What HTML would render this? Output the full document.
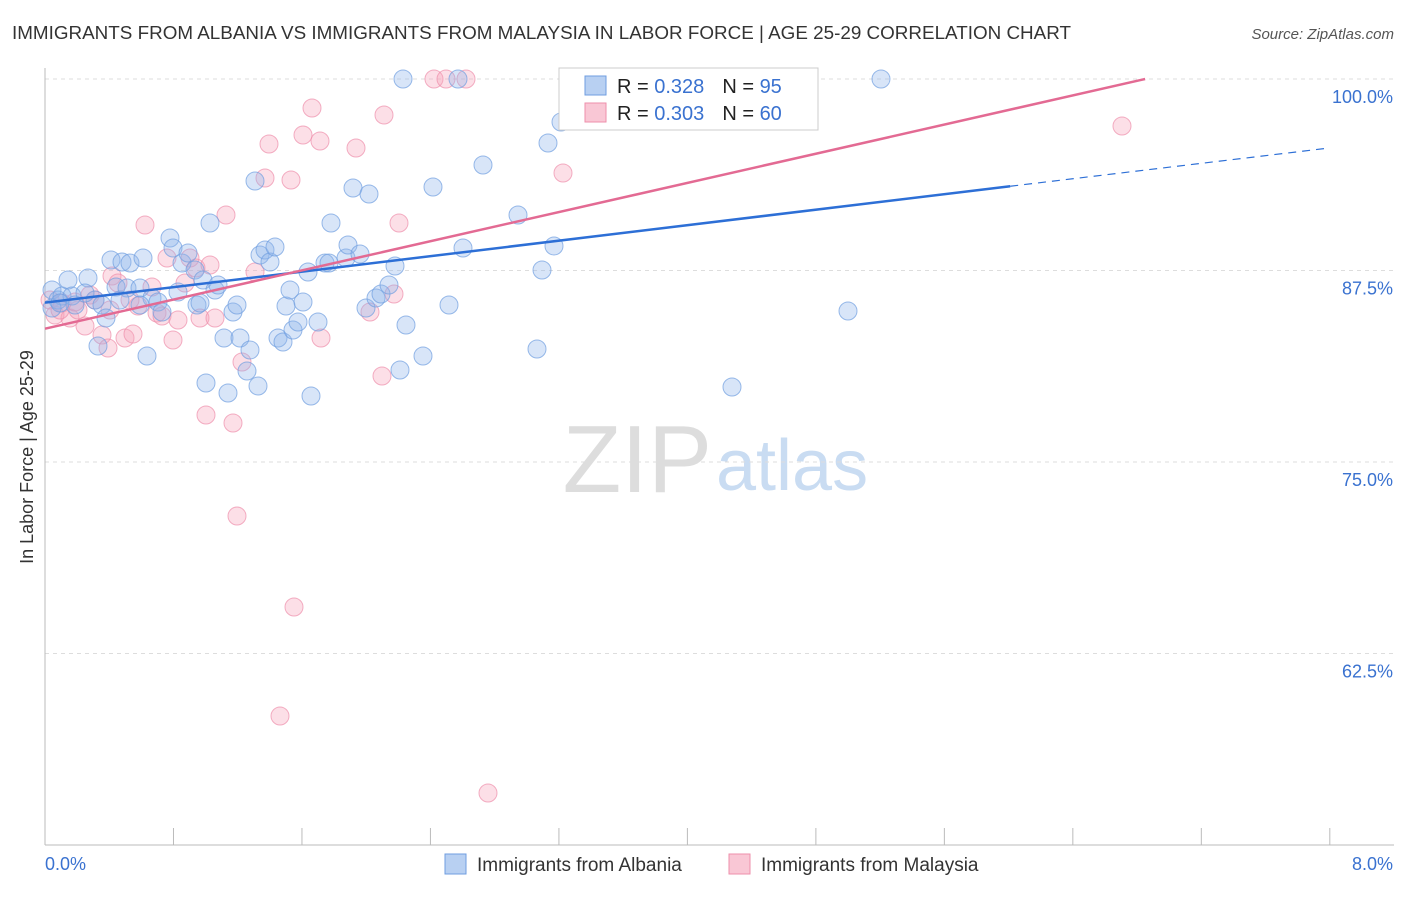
<!DOCTYPE html>
<html><head><meta charset="utf-8"><style>
body{margin:0;background:#fff;font-family:"Liberation Sans",sans-serif}
svg text{font-family:"Liberation Sans",sans-serif}
</style></head><body>
<svg id="c" width="1406" height="892">
<text x="12" y="39" font-size="18" fill="#333" textLength="1059" lengthAdjust="spacingAndGlyphs">IMMIGRANTS FROM ALBANIA VS IMMIGRANTS FROM MALAYSIA IN LABOR FORCE | AGE 25-29 CORRELATION CHART</text>
<text x="1394" y="39" font-size="15" fill="#555" text-anchor="end" font-style="italic">Source: ZipAtlas.com</text>
<text x="33" y="457" font-size="18" fill="#333" text-anchor="middle" transform="rotate(-90 33 457)">In Labor Force | Age 25-29</text>
<text x="712" y="492" font-size="96" fill="#ddd" text-anchor="end" font-family="Liberation Serif">ZIP</text>
<text x="716" y="490" font-size="72" fill="#c9dcf2">atlas</text>
<g id="grid"></g><g id="pts"></g><g id="lines"></g>
<g>
<rect x="559" y="68" width="259" height="62" fill="#fff" stroke="#ccc"/>
<rect x="585" y="76" width="21" height="19" fill="#b8d0f2" stroke="#6f9ee0"/>
<rect x="585" y="103" width="21" height="19" fill="#f9c7d5" stroke="#ee8fab"/>
<text x="617" y="93" font-size="20" fill="#222">R = <tspan fill="#3a72d0">0.328</tspan><tspan dx="18">N = </tspan><tspan fill="#3a72d0">95</tspan></text>
<text x="617" y="120" font-size="20" fill="#222">R = <tspan fill="#3a72d0">0.303</tspan><tspan dx="18">N = </tspan><tspan fill="#3a72d0">60</tspan></text>
</g>
<g>
<rect x="445" y="854" width="21" height="20" fill="#b8d0f2" stroke="#6f9ee0"/>
<text x="477" y="871" font-size="19" fill="#333">Immigrants from Albania</text>
<rect x="729" y="854" width="21" height="20" fill="#f9c7d5" stroke="#ee8fab"/>
<text x="761" y="871" font-size="19" fill="#333">Immigrants from Malaysia</text>
</g>
<text x="45" y="870" font-size="18" fill="#3a72d0">0.0%</text>
<text x="1393" y="870" font-size="18" fill="#3a72d0" text-anchor="end">8.0%</text>
</svg>
<script>
const yTicks=[100,87.5,75,62.5];
const yTickLabels=["100.0%","87.5%","75.0%","62.5%"];
const xTicks=[0,0.8,1.6,2.4,3.2,4.0,4.8,5.6,6.4,7.2,8.0];
const albaniaX=[52,58,62,68,72,75,88,95,98,102,106,111,116,122,127,130,140,143,147,152,158,162,170,173,178,182,188,195,197,203,206,210,215,218,224,228,233,237,240,247,255,258,260,265,270,275,278,283,286,290,293,298,303,308,311,318,325,329,331,346,348,353,360,366,369,376,381,389,395,400,403,406,423,433,449,458,463,483,518,537,542,548,554,561,594,732,848,881,52,60,85,120,140,200,250].map(p=>(p-45)/160.6);
const albaniaY=[290,300,296,280,296,305,278,300,346,305,318,260,287,262,288,263,288,258,356,298,302,312,238,248,292,263,253,270,305,280,383,223,290,285,338,393,312,305,338,371,181,386,255,250,262,247,338,342,306,290,330,322,302,272,396,322,263,263,223,258,245,188,254,308,194,298,294,285,266,370,79,325,356,187,305,79,248,165,215,349,270,143,246,122,79,387,311,79,308,303,293,300,305,303,350].map(p=>100-(p-79)/15.32);
const malaysiaX=[50,55,62,70,78,85,95,102,108,112,118,125,133,138,145,152,157,162,167,173,178,185,190,196,200,206,210,215,226,233,237,242,255,265,269,280,291,294,303,312,320,321,356,370,382,384,394,399,434,446,466,488,563,590,1122,60,75,90,110,130].map(p=>(p-45)/160.6);
const malaysiaY=[300,315,303,318,310,326,300,335,348,276,283,338,334,306,225,287,313,316,258,340,320,283,258,268,318,415,265,318,215,423,516,362,272,178,144,716,180,607,135,108,141,338,148,312,376,115,294,223,79,79,79,793,173,79,126,310,302,295,310,300].map(p=>100-(p-79)/15.32);
const X=v=>45+v*160.6, Y=v=>79+(100-v)*15.32;
const ns="http://www.w3.org/2000/svg";
function mk(t,a,p){const e=document.createElementNS(ns,t);for(const k in a)e.setAttribute(k,a[k]);p.appendChild(e);return e;}
const g=document.getElementById('grid');
yTicks.forEach((v,i)=>{
 const l=mk('line',{x1:45,x2:1394,y1:Y(v),y2:Y(v),stroke:'#ddd','stroke-dasharray':'4,4'},g);
 
 
 const t=mk('text',{x:1393,y:Y(v)+24,'font-size':18,fill:'#3a72d0','text-anchor':'end'},g);
 t.textContent=yTickLabels[i];
 
 
});
mk('line',{x1:45,x2:45,y1:68,y2:845,stroke:'#bbb'},g);
mk('line',{x1:45,x2:1394,y1:845,y2:845,stroke:'#bbb'},g);
xTicks.forEach(v=>{const t=mk('line',{x1:X(v),x2:X(v),y1:828,y2:845,stroke:'#bbb'},g);
 
 });
const P=document.getElementById('pts');
function pts(xs,ys,f,s,name){xs.forEach((x,i)=>{const c=mk('circle',{cx:X(x),cy:Y(ys[i]),r:9,fill:f,'fill-opacity':0.35,stroke:s,'stroke-opacity':0.7},P);
 
 });}
pts(malaysiaX,malaysiaY,'#f5a3bb','#ee8fab','malaysia-point');
pts(albaniaX,albaniaY,'#8fb4ea','#6f9ee0','albania-point');
const L=document.getElementById('lines');
const bl=mk('line',{x1:X(0),y1:Y(85.4),x2:X(6.01),y2:Y(93.0),stroke:'#2d6fd6','stroke-width':2.5},L);

const bd=mk('line',{x1:X(6.01),y1:Y(93.0),x2:X(8),y2:Y(95.5),stroke:'#2d6fd6','stroke-width':1.2,'stroke-dasharray':'8,6'},L);

const pl=mk('line',{x1:X(0),y1:Y(83.7),x2:X(6.85),y2:Y(100),stroke:'#e36a93','stroke-width':2.5},L);

</script>
</body></html>
